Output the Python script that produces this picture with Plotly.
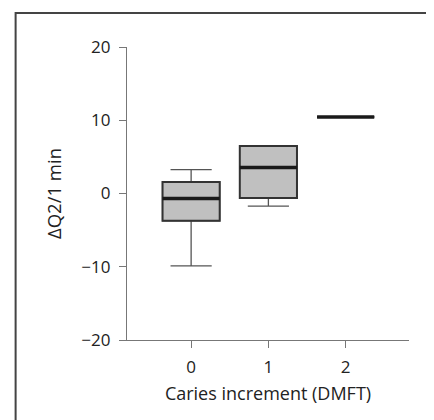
import plotly.graph_objects as go

# Data
categories = [0, 1, 2]
q1_vals = [-3.73, -0.6, 10.45]
median_vals = [-0.68, 3.55, 10.45]
q3_vals = [1.58, 6.5, 10.45]
lower_vals = [-9.87, -1.73, 10.45]
upper_vals = [3.27, 6.5, 10.45]

y_ticks = [-20, -10, 0, 10, 20]
y_ticktext = ["\u221220", "\u221210", "0", "10", "20"]
x_title = "Caries increment (DMFT)"
y_title = "\u0394Q2/1 min"

FONT = "Open Sans"
TXT = "#222222"
BOX_W = 0.74

fig = go.Figure()

# Whiskers (thin grey lines)
fig.add_trace(go.Box(
    x=categories, q1=q1_vals, median=median_vals, q3=q3_vals,
    lowerfence=lower_vals, upperfence=upper_vals,
    width=BOX_W, whiskerwidth=0.72,
    line=dict(color="#555555", width=1.3),
    fillcolor="rgba(0,0,0,0)", boxpoints=False, hoverinfo="skip",
    showlegend=False,
))
# Boxes (filled, darker outline)
fig.add_trace(go.Box(
    x=categories, q1=q1_vals, median=median_vals, q3=q3_vals,
    lowerfence=q1_vals, upperfence=q3_vals,
    width=BOX_W, whiskerwidth=0,
    line=dict(color="#333333", width=2),
    fillcolor="#c0c0c0", boxpoints=False, hoverinfo="skip",
    showlegend=False,
))
# Thick medians
fig.add_trace(go.Box(
    x=categories, q1=median_vals, median=median_vals, q3=median_vals,
    lowerfence=median_vals, upperfence=median_vals,
    width=BOX_W, whiskerwidth=0,
    line=dict(color="#1a1a1a", width=3.5),
    fillcolor="rgba(0,0,0,0)", boxpoints=False, hoverinfo="skip",
    showlegend=False,
))

axis_common = dict(
    showline=True, linecolor="#777777", linewidth=1.3,
    ticks="outside", ticklen=7, tickcolor="#777777", tickwidth=1.3,
    showgrid=False, zeroline=False,
    tickfont=dict(family=FONT, size=17, color=TXT),
)

fig.update_layout(
    width=434, height=420,
    margin=dict(l=119, r=33, t=39, b=88),
    paper_bgcolor="white", plot_bgcolor="white",
    boxmode="overlay",
    xaxis=dict(
        range=[-0.83, 2.82], tickmode="array", tickvals=categories,
        ticktext=[str(c) for c in categories],
        ticklabelstandoff=4,
        title=dict(text=x_title, font=dict(family=FONT, size=18, color=TXT), standoff=10),
        **axis_common,
    ),
    yaxis=dict(
        range=[-20, 20], tickmode="array", tickvals=y_ticks, ticktext=y_ticktext,
        ticklabelstandoff=5,
        title=dict(text=y_title, font=dict(family=FONT, size=18.5, color=TXT), standoff=14),
        **axis_common,
    ),
    shapes=[dict(
        type="rect", xref="paper", yref="paper",
        x0=-0.395, x1=1.3, y0=-0.4, y1=1.116,
        line=dict(color="#444444", width=2), fillcolor="rgba(0,0,0,0)",
        layer="below",
    )],
    font=dict(family=FONT),
)

fig.write_html("out.html")
